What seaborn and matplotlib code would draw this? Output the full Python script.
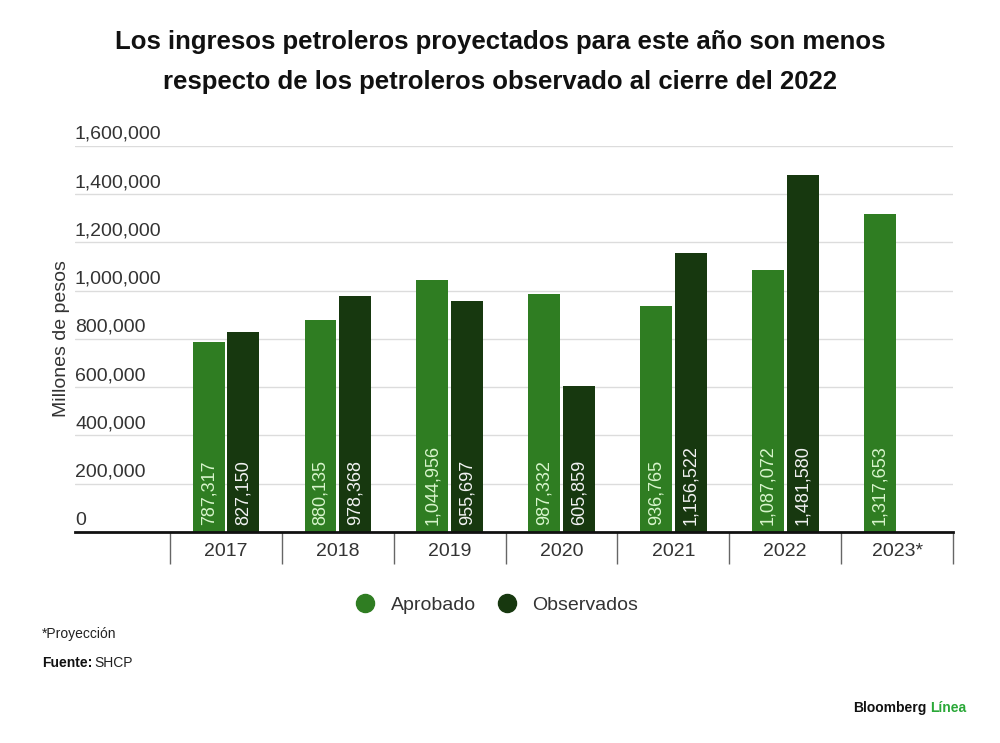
import numpy as np
import pandas as pd
import matplotlib
matplotlib.use("Agg")
import matplotlib.pyplot as plt
import matplotlib.transforms as mtransforms
from matplotlib.lines import Line2D
import seaborn as sns

years = ["2017", "2018", "2019", "2020", "2021", "2022", "2023*"]
aprobado = [787317, 880135, 1044956, 987332, 936765, 1087072, 1317653]
observados = [827150, 978368, 955697, 605859, 1156522, 1481580, np.nan]
series_names = ["Aprobado", "Observados"]
yticks = [0, 200000, 400000, 600000, 800000, 1000000, 1200000, 1400000, 1600000]

colors = {"Aprobado": "#2f7d22", "Observados": "#17380f"}
label_colors = {"Aprobado": "#d8f5cc", "Observados": "#f2f2f2"}

df = pd.DataFrame({
    "year": years * 2,
    "serie": [series_names[0]] * len(years) + [series_names[1]] * len(years),
    "valor": aprobado + observados,
})

sns.set_theme(style="white")
plt.rcParams["font.family"] = ["Liberation Sans", "DejaVu Sans"]

fig = plt.figure(figsize=(10, 7.43), dpi=100)
ax = fig.add_axes([0.075, 0.284, 0.878, 0.5195])

sns.barplot(data=df, x="year", y="valor", hue="serie", order=years,
            hue_order=series_names, palette=colors, width=0.62, gap=0.08,
            ax=ax, legend=False, saturation=1, edgecolor="none", errorbar=None)

ax.set_xlim(-1.35, 6.5)
ax.set_ylim(0, 1600000)
ax.set_yticks(yticks)
ax.set_yticklabels([f"{v:,}" for v in yticks], fontsize=14, color="#333333",
                   ha="left", va="bottom")
ax.tick_params(axis="y", length=0, pad=0)
off = mtransforms.ScaledTranslation(0, 3 / 100, fig.dpi_scale_trans)
for lab in ax.get_yticklabels():
    lab.set_transform(lab.get_transform() + off)
ax.yaxis.grid(True, color="#dcdcdc", linewidth=1)
ax.set_axisbelow(True)

ax.set_xticks(range(len(years)))
ax.set_xticklabels(years, fontsize=14, color="#333333")
ax.set_xticks(np.arange(-0.5, len(years), 1.0), minor=True)
ax.tick_params(axis="x", which="major", length=0, pad=8)
ax.tick_params(axis="x", which="minor", length=23, width=1, color="#666666",
               direction="out", bottom=True)

for s in ["top", "right", "left"]:
    ax.spines[s].set_visible(False)
ax.spines["bottom"].set_color("#111111")
ax.spines["bottom"].set_linewidth(2)

ax.set_xlabel("")
ax.set_ylabel("Millones de pesos", fontsize=14, color="#333333")
ax.yaxis.set_label_coords(-0.006, 0.5)

# value labels
for cont, name in zip(ax.containers, series_names):
    for bar in cont:
        h = bar.get_height()
        if not np.isfinite(h) or h == 0:
            continue
        ax.annotate(f"{int(h):,}", (bar.get_x() + bar.get_width() / 2, 0),
                    xytext=(0, 5), textcoords="offset points",
                    rotation=90, ha="center", va="bottom",
                    fontsize=13, color=label_colors[name])

# legend
handles = [Line2D([0], [0], marker="o", linestyle="", markersize=13,
                  markerfacecolor=colors[n], markeredgecolor=colors[n]) for n in series_names]
fig.legend(handles, series_names, loc="center", bbox_to_anchor=(0.492, 1 - 605 / 743),
           ncol=2, frameon=False, fontsize=14, handletextpad=0.3, columnspacing=0.6,
           labelcolor="#333333")

# title
fig.text(0.5, 1 - 42 / 743, "Los ingresos petroleros proyectados para este año son menos",
         ha="center", va="center", fontsize=18.5, fontweight="bold", color="#111111")
fig.text(0.5, 1 - 82 / 743, "respecto de los petroleros observado al cierre del 2022",
         ha="center", va="center", fontsize=18.5, fontweight="bold", color="#111111")

# footer
fig.text(0.042, 1 - 634 / 743, "*Proyección", ha="left", va="center", fontsize=10, color="#222222")
t = fig.text(0.042, 1 - 663 / 743, "Fuente:", ha="left", va="center", fontsize=10,
             fontweight="bold", color="#111111")
fig.canvas.draw()
bb = t.get_window_extent()
fig.text((bb.x1 + 2) / 1000, 1 - 663 / 743, "SHCP", ha="left", va="center", fontsize=10,
         color="#222222")
t2 = fig.text(0.966, 1 - 708 / 743, "Línea", ha="right", va="center", fontsize=10,
              fontweight="bold", color="#2aa838")
fig.canvas.draw()
bb2 = t2.get_window_extent()
fig.text((bb2.x0 - 3) / 1000, 1 - 708 / 743, "Bloomberg", ha="right", va="center",
         fontsize=10, fontweight="bold", color="#111111")

fig.savefig("out.png", dpi=100, facecolor="white")
